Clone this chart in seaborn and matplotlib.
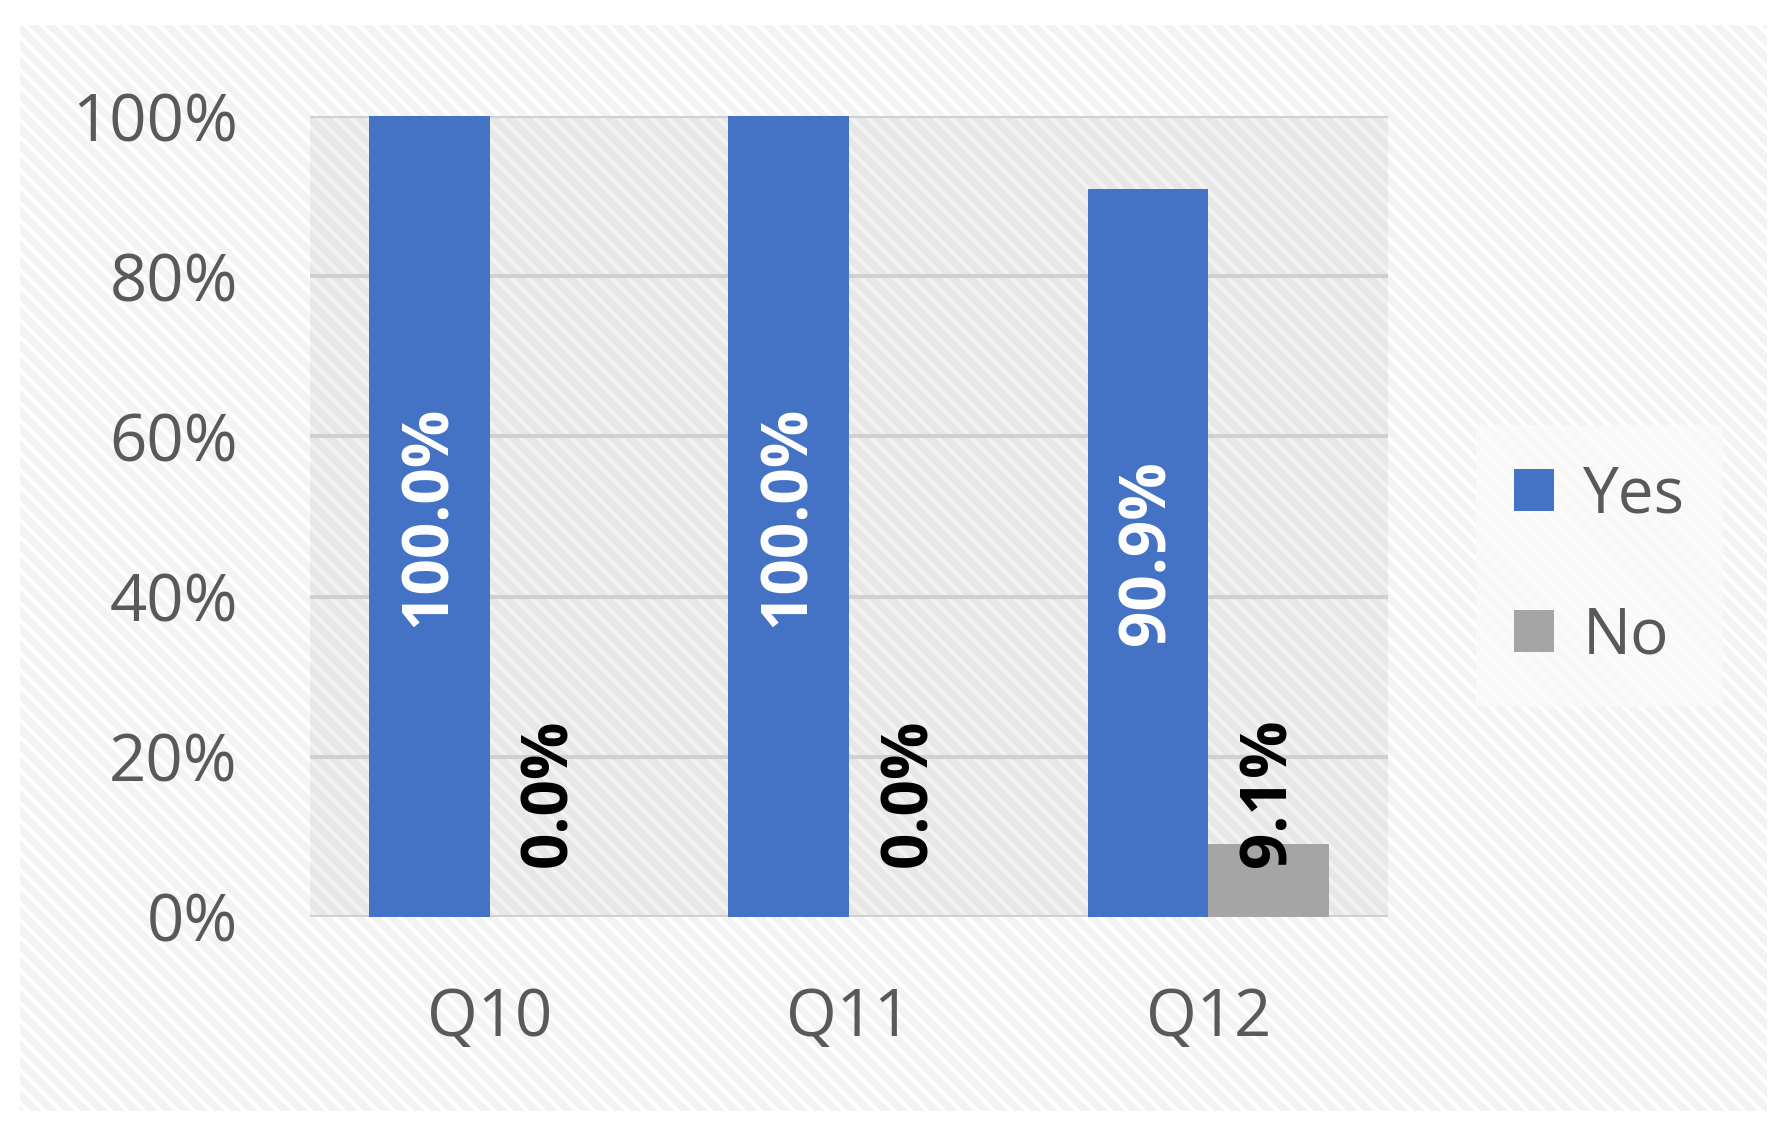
import seaborn as sns
import matplotlib.pyplot as plt
import matplotlib.patches as mpatches
import pandas as pd

questions = ["Q10", "Q11", "Q12"]
yes_vals = [1.0, 1.0, 0.909]
no_vals = [0.0, 0.0, 0.091]
answers = ["Yes", "No"]
colors = ["#4472C4", "#A5A5A5"]

rows = []
for q, y, n in zip(questions, yes_vals, no_vals):
    rows.append([q, "Yes", y])
    rows.append([q, "No", n])
df = pd.DataFrame(rows, columns=["question", "answer", "value"])

sns.set_theme(style="white")
plt.rcParams['font.family'] = ['Open Sans', 'DejaVu Sans']
plt.rcParams['hatch.linewidth'] = 3.0

fig = plt.figure(figsize=(17.87, 11.32), dpi=100)
fig.patch.set_facecolor("white")

# textured chart background
bg = mpatches.Rectangle((0.0112, 0.0186), 0.9776, 0.9594, transform=fig.transFigure,
                        facecolor="#f3f3f3", edgecolor="white", hatch="\\\\", linewidth=0, zorder=-10)
fig.patches.append(bg)

ax = fig.add_axes([0.1735, 0.190, 0.6032, 0.7075])
ax.set_facecolor("none")
plot_bg = mpatches.Rectangle((0, 0), 1, 1, transform=ax.transAxes, facecolor="#e7e7e7",
                             edgecolor="#f2f2f2", hatch="\\\\", linewidth=0, zorder=-5)
ax.add_patch(plot_bg)

sns.barplot(data=df, x="question", y="value", hue="answer", hue_order=answers,
            palette=colors, width=0.672, saturation=1, linewidth=0, ax=ax, zorder=3)

ax.set_ylim(0, 1)
ax.set_xlim(-0.5, 2.5)
ax.set_yticks([0, 0.2, 0.4, 0.6, 0.8, 1.0])
ax.set_yticklabels(["0%", "20%", "40%", "60%", "80%", "100%"])
ax.yaxis.grid(True, color="#d0d0d0", linewidth=3, zorder=0)
ax.set_axisbelow(True)
ax.tick_params(axis="y", labelsize=47, labelcolor="#595959", pad=52, length=0)
ax.tick_params(axis="x", labelsize=47, labelcolor="#595959", pad=50, length=0)
ax.set_xlabel("")
ax.set_ylabel("")
for s in ax.spines.values():
    s.set_visible(False)

# data labels
for cont, ans in zip(ax.containers, answers):
    vals = yes_vals if ans == "Yes" else no_vals
    for bar, v in zip(cont, vals):
        cx = bar.get_x() + bar.get_width() / 2
        if ans == "Yes":
            ax.text(cx, v / 2, "{:.1%}".format(v), rotation=90, ha="center", va="center",
                    color="white", fontsize=46, fontweight="bold", zorder=5)
        else:
            ax.annotate("{:.1%}".format(v), (cx, 0), xytext=(0, 36), textcoords="offset points",
                        rotation=90, ha="center", va="bottom", color="black",
                        fontsize=46, fontweight="bold", zorder=5)

leg = ax.legend(loc="center", bbox_to_anchor=(0.895, 0.5), bbox_transform=fig.transFigure,
                fontsize=46, handlelength=0.62, handleheight=0.62, handletextpad=0.45,
                labelspacing=1.2, frameon=True, fancybox=False, borderpad=0.6)
leg.get_frame().set_facecolor("#fafafa")
leg.get_frame().set_edgecolor("none")
for t in leg.get_texts():
    t.set_color("#595959")

fig.savefig("out.png", dpi=100)
